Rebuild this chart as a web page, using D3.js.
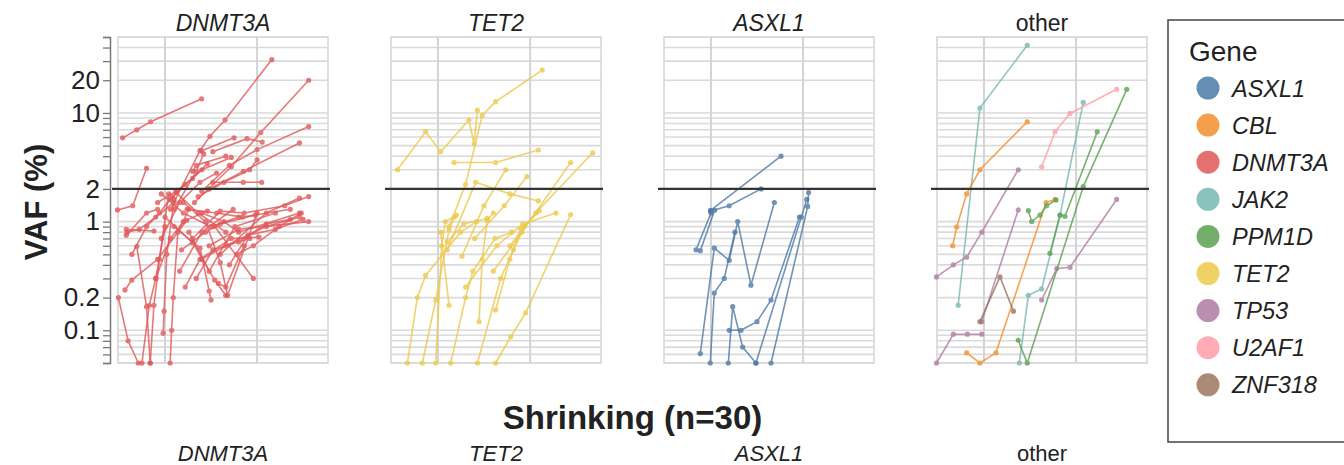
<!DOCTYPE html>
<html>
<head>
<meta charset="utf-8">
<script src="https://cdn.jsdelivr.net/npm/d3@7"></script>
<style>
  body { margin: 0; background: #fff; }
  svg text { font-family: "Liberation Sans", Arial, sans-serif; fill: #222; }
</style>
</head>
<body>
<script>
// DATA: gene legend, facet panels, axis ticks
var genes = ["ASXL1", "CBL", "DNMT3A", "JAK2", "PPM1D", "TET2", "TP53", "U2AF1", "ZNF318"];
var panels = ["DNMT3A", "TET2", "ASXL1", "other"];
var yTickLabels = [0.1, 0.2, 1, 2, 10, 20];
var gridYears = [5, 10];
var vafThreshold = 2;

// each trajectory is a list of [time, VAF %]
var dnmt3aLines = [
    [[2.7, 5.9], [3.47, 7.0], [4.22, 8.3], [6.99, 13.5]],
    [[5.3, 1.3], [6.9, 4.5], [7.44, 6.1], [8.26, 8.6], [10.8, 31]],
    [[6.6, 1.5], [8.6, 3.2], [10.2, 6.6], [12.8, 20]],
    [[7.0, 1.9], [8.5, 3.3], [10.0, 4.6], [12.8, 7.5]],
    [[7.4, 2.0], [9.25, 2.9], [12.3, 5.3]],
    [[6.99, 4.5], [8.75, 5.9]],
    [[7.6, 4.4], [9.45, 5.8], [10.28, 5.4]],
    [[7.6, 2.3], [9.25, 2.3], [10.25, 2.3]],
    [[2.42, 1.28], [3.25, 1.4], [4.0, 3.1]],
    [[6.5, 2.9], [6.7, 3.3], [8.3, 4.0]],
    [[2.47, 0.2], [3.0, 0.08], [3.55, 0.05]],
    [[3.75, 0.05], [4.15, 0.17], [4.5, 0.3], [5.0, 0.9]],
    [[3.47, 0.59], [4.0, 0.165], [4.2, 0.05]],
    [[4.2, 0.05], [4.4, 0.17], [4.7, 0.45], [5.2, 1.8]],
    [[5.28, 0.05], [5.36, 0.1], [5.45, 0.2], [5.7, 0.8], [6.3, 1.3]],
    [[4.9, 0.094], [4.95, 0.15], [5.1, 0.5], [5.5, 1.6]],
    [[2.83, 0.235], [3.2, 0.29], [4.6, 0.45], [6.18, 1.03]],
    [[2.9, 0.85], [4.4, 0.82]],
    [[2.95, 0.8], [3.6, 0.85], [4.5, 1.1], [5.5, 1.5]],
    [[2.9, 0.75], [4.0, 1.2], [4.6, 1.3]],
    [[4.8, 1.8], [6.0, 1.2], [7.5, 0.9], [9.0, 1.1]],
    [[5.6, 1.85], [6.8, 1.2], [8.3, 0.8]],
    [[5.0, 1.1], [6.5, 0.64], [7.7, 0.29], [8.3, 0.21]],
    [[5.5, 0.9], [6.9, 0.57], [7.4, 0.23], [7.5, 0.19]],
    [[6.0, 1.5], [7.2, 1.0], [8.0, 0.42], [8.4, 0.21], [10.0, 1.2]],
    [[6.3, 0.8], [7.4, 0.35], [8.8, 0.9], [11.0, 1.2]],
    [[7.0, 1.2], [8.2, 1.0], [9.0, 0.8], [12.3, 1.2]],
    [[7.7, 0.9], [9.8, 0.3]],
    [[6.5, 0.7], [8.0, 1.25], [9.3, 1.2], [11.5, 1.4], [12.8, 1.7]],
    [[7.4, 0.6], [9.0, 0.85], [12.8, 1.0]],
    [[8.0, 0.5], [10.5, 1.2], [12.3, 1.65]],
    [[7.0, 0.45], [8.3, 0.6], [10.5, 0.9], [12.3, 1.1]],
    [[6.2, 1.3], [7.8, 1.2], [9.2, 1.1], [11.8, 1.3]],
    [[5.8, 0.35], [7.0, 0.8], [8.7, 1.3]],
    [[6.7, 0.3], [7.6, 0.55], [9.6, 0.7]],
    [[8.5, 0.4], [9.5, 0.75], [11.0, 0.85], [12.5, 1.05]],
    [[4.6, 1.5], [5.6, 1.9], [6.5, 2.5], [7.3, 3.4]],
    [[5.3, 1.6], [6.1, 2.2], [7.0, 3.0], [8.6, 3.9]],
    [[4.8, 0.7], [5.8, 1.5], [6.9, 2.3], [7.8, 2.8]],
    [[5.5, 1.3], [6.7, 2.9], [7.1, 4.2]],
    [[6.8, 1.7], [8.2, 2.3], [9.6, 3.0], [10.0, 3.7]],
    [[5.9, 0.55], [7.2, 0.8], [8.0, 0.95], [9.9, 1.15]],
    [[8.9, 0.5], [9.8, 0.6], [11.2, 0.9], [12.4, 1.2]],
    [[6.1, 0.25], [6.9, 0.45], [8.6, 0.7], [10.1, 0.72]],
    [[3.2, 0.5], [4.0, 0.9], [4.7, 1.2], [5.4, 1.7]],
    [[9.0, 0.65], [10.5, 0.95], [11.8, 1.05]],
    [[7.9, 0.27], [8.3, 0.25], [9.3, 0.6]],
    [[4.5, 0.3], [5.3, 0.7], [6.0, 1.0], [7.3, 1.25]]
];

var tet2Lines = [
    [[2.8, 3.0], [4.33, 6.7], [5.15, 4.4], [6.68, 8.6], [6.96, 5.2], [7.14, 10.6]],
    [[5.6, 0.9], [6.5, 2.2], [7.4, 9.5], [8.13, 12.7], [10.66, 24.8]],
    [[5.87, 3.5], [8.13, 3.5], [10.45, 4.56]],
    [[8.13, 0.05], [8.95, 0.087], [9.76, 0.145], [12.2, 1.16]],
    [[3.34, 0.05], [3.88, 0.2], [4.33, 0.32], [6.23, 0.8], [7.1, 1.0]],
    [[4.15, 0.05], [4.88, 0.19], [5.6, 0.84], [5.9, 1.1]],
    [[4.88, 0.05], [5.2, 0.6], [5.4, 1.0], [6.0, 1.15]],
    [[5.69, 0.05], [6.5, 0.2], [6.9, 0.35], [8.1, 0.7], [9.0, 0.8]],
    [[7.14, 0.05], [8.4, 0.3], [9.1, 0.55], [9.7, 0.9]],
    [[8.13, 0.154], [8.9, 0.45], [9.5, 0.85], [10.5, 1.25]],
    [[5.15, 0.8], [5.6, 0.17]],
    [[7.23, 0.12], [7.4, 0.45], [7.68, 1.03], [8.0, 1.2]],
    [[6.3, 0.48], [7.5, 1.4], [8.68, 3.0]],
    [[7.0, 0.7], [8.6, 1.4], [9.83, 2.6]],
    [[8.0, 0.35], [9.56, 0.8], [12.2, 3.5]],
    [[8.9, 0.6], [10.3, 1.2], [13.4, 4.3]],
    [[5.5, 0.55], [7.05, 2.3], [8.9, 1.8], [10.45, 1.55]],
    [[6.5, 0.25], [8.2, 0.6], [9.6, 0.95], [11.4, 1.2]],
    [[5.5, 0.65], [6.4, 0.95], [7.66, 1.07]]
];

var asxl1Lines = [
    [[4.98, 1.27], [8.8, 4.0]],
    [[4.98, 1.25], [5.99, 1.4], [7.72, 2.0]],
    [[4.19, 0.55], [5.0, 1.2]],
    [[4.42, 0.54], [5.2, 1.27]],
    [[4.42, 0.061], [5.18, 0.57], [5.99, 0.44], [6.45, 1.0], [7.17, 0.26], [8.44, 1.5]],
    [[4.96, 0.05], [5.18, 0.22], [5.72, 0.3], [6.3, 0.8]],
    [[5.94, 0.05], [6.18, 0.165], [6.72, 0.07], [7.44, 0.05]],
    [[5.99, 0.1], [6.63, 0.1], [7.5, 0.12], [8.26, 0.19], [9.8, 1.1]],
    [[8.26, 0.05], [10.25, 1.38], [10.3, 1.85]],
    [[7.44, 0.05], [9.9, 1.1], [10.2, 1.6]]
];

var otherGenes = ["JAK2", "JAK2", "CBL", "CBL", "TP53", "TP53", "TP53", "TP53",
    "ZNF318", "PPM1D", "PPM1D", "PPM1D", "U2AF1"];
var otherLines = [
    [[3.6, 0.17], [4.78, 11.1], [7.35, 42]],
    [[6.92, 0.05], [7.41, 0.21], [8.13, 0.24], [9.13, 1.15], [10.39, 12.5]],
    [[3.3, 0.6], [3.52, 0.89], [4.06, 1.8], [4.78, 3.0], [7.35, 8.3]],
    [[4.06, 0.062], [4.78, 0.05], [5.65, 0.062], [8.37, 1.5], [8.86, 1.6]],
    [[2.42, 0.31], [3.34, 0.4], [4.06, 0.47], [4.88, 0.8], [6.86, 3.0]],
    [[2.42, 0.05], [3.34, 0.092], [4.1, 0.092], [4.88, 0.092]],
    [[4.88, 0.12], [6.86, 1.28]],
    [[8.13, 0.19], [8.95, 0.37], [9.67, 0.38], [12.2, 1.6]],
    [[4.78, 0.12], [5.87, 0.31], [6.6, 0.15]],
    [[7.41, 1.26], [7.59, 1.0], [8.04, 1.15], [8.4, 1.4], [8.91, 1.58]],
    [[6.86, 0.081], [7.35, 0.05], [10.39, 2.1], [12.75, 16.5]],
    [[8.58, 0.51], [9.13, 1.15], [9.4, 1.12], [11.15, 6.7]],
    [[8.13, 3.2], [8.86, 6.7], [9.67, 9.9], [12.2, 16.5]]
];

// combine into one list per panel, each trajectory tagged with its gene
var panelData = [
    dnmt3aLines.map(function(p) { return { gene: "DNMT3A", pts: p }; }),
    tet2Lines.map(function(p) { return { gene: "TET2", pts: p }; }),
    asxl1Lines.map(function(p) { return { gene: "ASXL1", pts: p }; }),
    otherLines.map(function(p, i) { return { gene: otherGenes[i], pts: p }; })
];

var width = 1344, height = 465;
var panelW = 210, panelGap = 273, firstLeft = 118;
var plotTop = 37, plotBottom = 363;

var svg = d3.select("body").append("svg")
    .attr("width", width)
    .attr("height", height);

var x = d3.scaleLinear().domain([2.45, 13.85]).range([0, panelW]);
var y = d3.scaleLog().domain([0.05, 50]).range([plotBottom, plotTop]);
var color = d3.scaleOrdinal().domain(genes).range(d3.schemeTableau10);
var minorTicks = y.ticks();

var line = d3.line()
    .x(function(d) { return x(d[0]); })
    .y(function(d) { return y(d[1]); });

function isLabelled(v) {
    return yTickLabels.some(function(t) { return Math.abs(t - v) < 1e-9; });
}

// y axis with minor ticks, only some labelled
var yAxis = d3.axisLeft(y)
    .tickValues(minorTicks)
    .tickSize(7)
    .tickPadding(3)
    .tickFormat(function(d) { return isLabelled(d) ? d : ""; });

var axisG = svg.append("g")
    .attr("transform", "translate(" + (firstLeft - 8) + ",0)")
    .call(yAxis);
axisG.select(".domain").attr("stroke", "#777").attr("stroke-width", 1.5);
axisG.selectAll(".tick line").attr("stroke", "#777").attr("stroke-width", 1.3);
axisG.selectAll(".tick text")
    .style("font-size", "26px")
    .style("font-family", "'Liberation Sans', Arial, sans-serif")
    .attr("fill", "#222");

svg.append("text")
    .attr("transform", "translate(47," + ((plotTop + plotBottom) / 2 + 2) + ") rotate(-90)")
    .attr("text-anchor", "middle")
    .style("font-size", "31px")
    .style("font-weight", "bold")
    .text("VAF (%)");

// facet panels
panels.forEach(function(name, i) {
    var left = firstLeft + i * panelGap;
    var g = svg.append("g").attr("transform", "translate(" + left + ",0)");

    g.append("rect")
        .attr("x", 0).attr("y", plotTop)
        .attr("width", panelW).attr("height", plotBottom - plotTop)
        .attr("fill", "#fff")
        .attr("stroke", "#d4d4d4")
        .attr("stroke-width", 1.5);

    g.selectAll(".hgrid")
        .data(minorTicks)
        .enter()
        .append("line")
        .attr("x1", 0).attr("x2", panelW)
        .attr("y1", function(d) { return y(d); })
        .attr("y2", function(d) { return y(d); })
        .attr("stroke", "#dadada")
        .attr("stroke-width", 1.6);

    g.selectAll(".vgrid")
        .data(gridYears)
        .enter()
        .append("line")
        .attr("x1", function(d) { return x(d); })
        .attr("x2", function(d) { return x(d); })
        .attr("y1", plotTop).attr("y2", plotBottom)
        .attr("stroke", "#d4d4d4")
        .attr("stroke-width", 2);

    g.append("text")
        .attr("x", panelW / 2)
        .attr("y", 31)
        .attr("text-anchor", "middle")
        .style("font-size", "23px")
        .style("font-style", name == "other" ? "normal" : "italic")
        .text(name);

    var traj = g.selectAll(".traj")
        .data(panelData[i])
        .enter()
        .append("g")
        .attr("opacity", 0.8);

    traj.append("path")
        .attr("d", function(d) { return line(d.pts); })
        .attr("fill", "none")
        .attr("stroke", function(d) { return color(d.gene); })
        .attr("stroke-width", 1.6);

    traj.selectAll("circle")
        .data(function(d) { return d.pts.map(function(p) { return { gene: d.gene, p: p }; }); })
        .enter()
        .append("circle")
        .attr("cx", function(d) { return x(d.p[0]); })
        .attr("cy", function(d) { return y(d.p[1]); })
        .attr("r", 2.6)
        .attr("fill", function(d) { return color(d.gene); });

    // 2% VAF threshold
    g.append("line")
        .attr("x1", -6).attr("x2", panelW + 2)
        .attr("y1", y(vafThreshold)).attr("y2", y(vafThreshold))
        .attr("stroke", "#333")
        .attr("stroke-width", 2.2);
});

// next facet row peeking in at the bottom
var midX = firstLeft + (3 * panelGap + panelW) / 2;
svg.append("text")
    .attr("x", midX)
    .attr("y", 429)
    .attr("text-anchor", "middle")
    .style("font-size", "33px")
    .style("font-weight", "bold")
    .text("Shrinking (n=30)");

svg.selectAll(".bottom-title")
    .data(panels)
    .enter()
    .append("text")
    .attr("x", function(d, i) { return firstLeft + i * panelGap + panelW / 2; })
    .attr("y", 461)
    .attr("text-anchor", "middle")
    .style("font-size", "22px")
    .style("font-style", function(d) { return d == "other" ? "normal" : "italic"; })
    .text(function(d) { return d; });

// legend
var legend = svg.append("g").attr("transform", "translate(1168,20)");
legend.append("rect")
    .attr("x", 0).attr("y", 0)
    .attr("width", 200).attr("height", 422)
    .attr("fill", "none")
    .attr("stroke", "#444")
    .attr("stroke-width", 1.5);

legend.append("text")
    .attr("x", 21).attr("y", 41)
    .style("font-size", "28px")
    .text("Gene");

var items = legend.selectAll(".item")
    .data(genes)
    .enter()
    .append("g")
    .attr("transform", function(d, i) { return "translate(40," + (68 + i * 37.1) + ")"; });

items.append("circle")
    .attr("r", 11.5)
    .attr("fill", function(d) { return color(d); })
    .attr("opacity", 0.85);

items.append("text")
    .attr("x", 24)
    .attr("y", 8.5)
    .style("font-size", "23.5px")
    .style("font-style", "italic")
    .text(function(d) { return d; });
</script>
</body>
</html>
